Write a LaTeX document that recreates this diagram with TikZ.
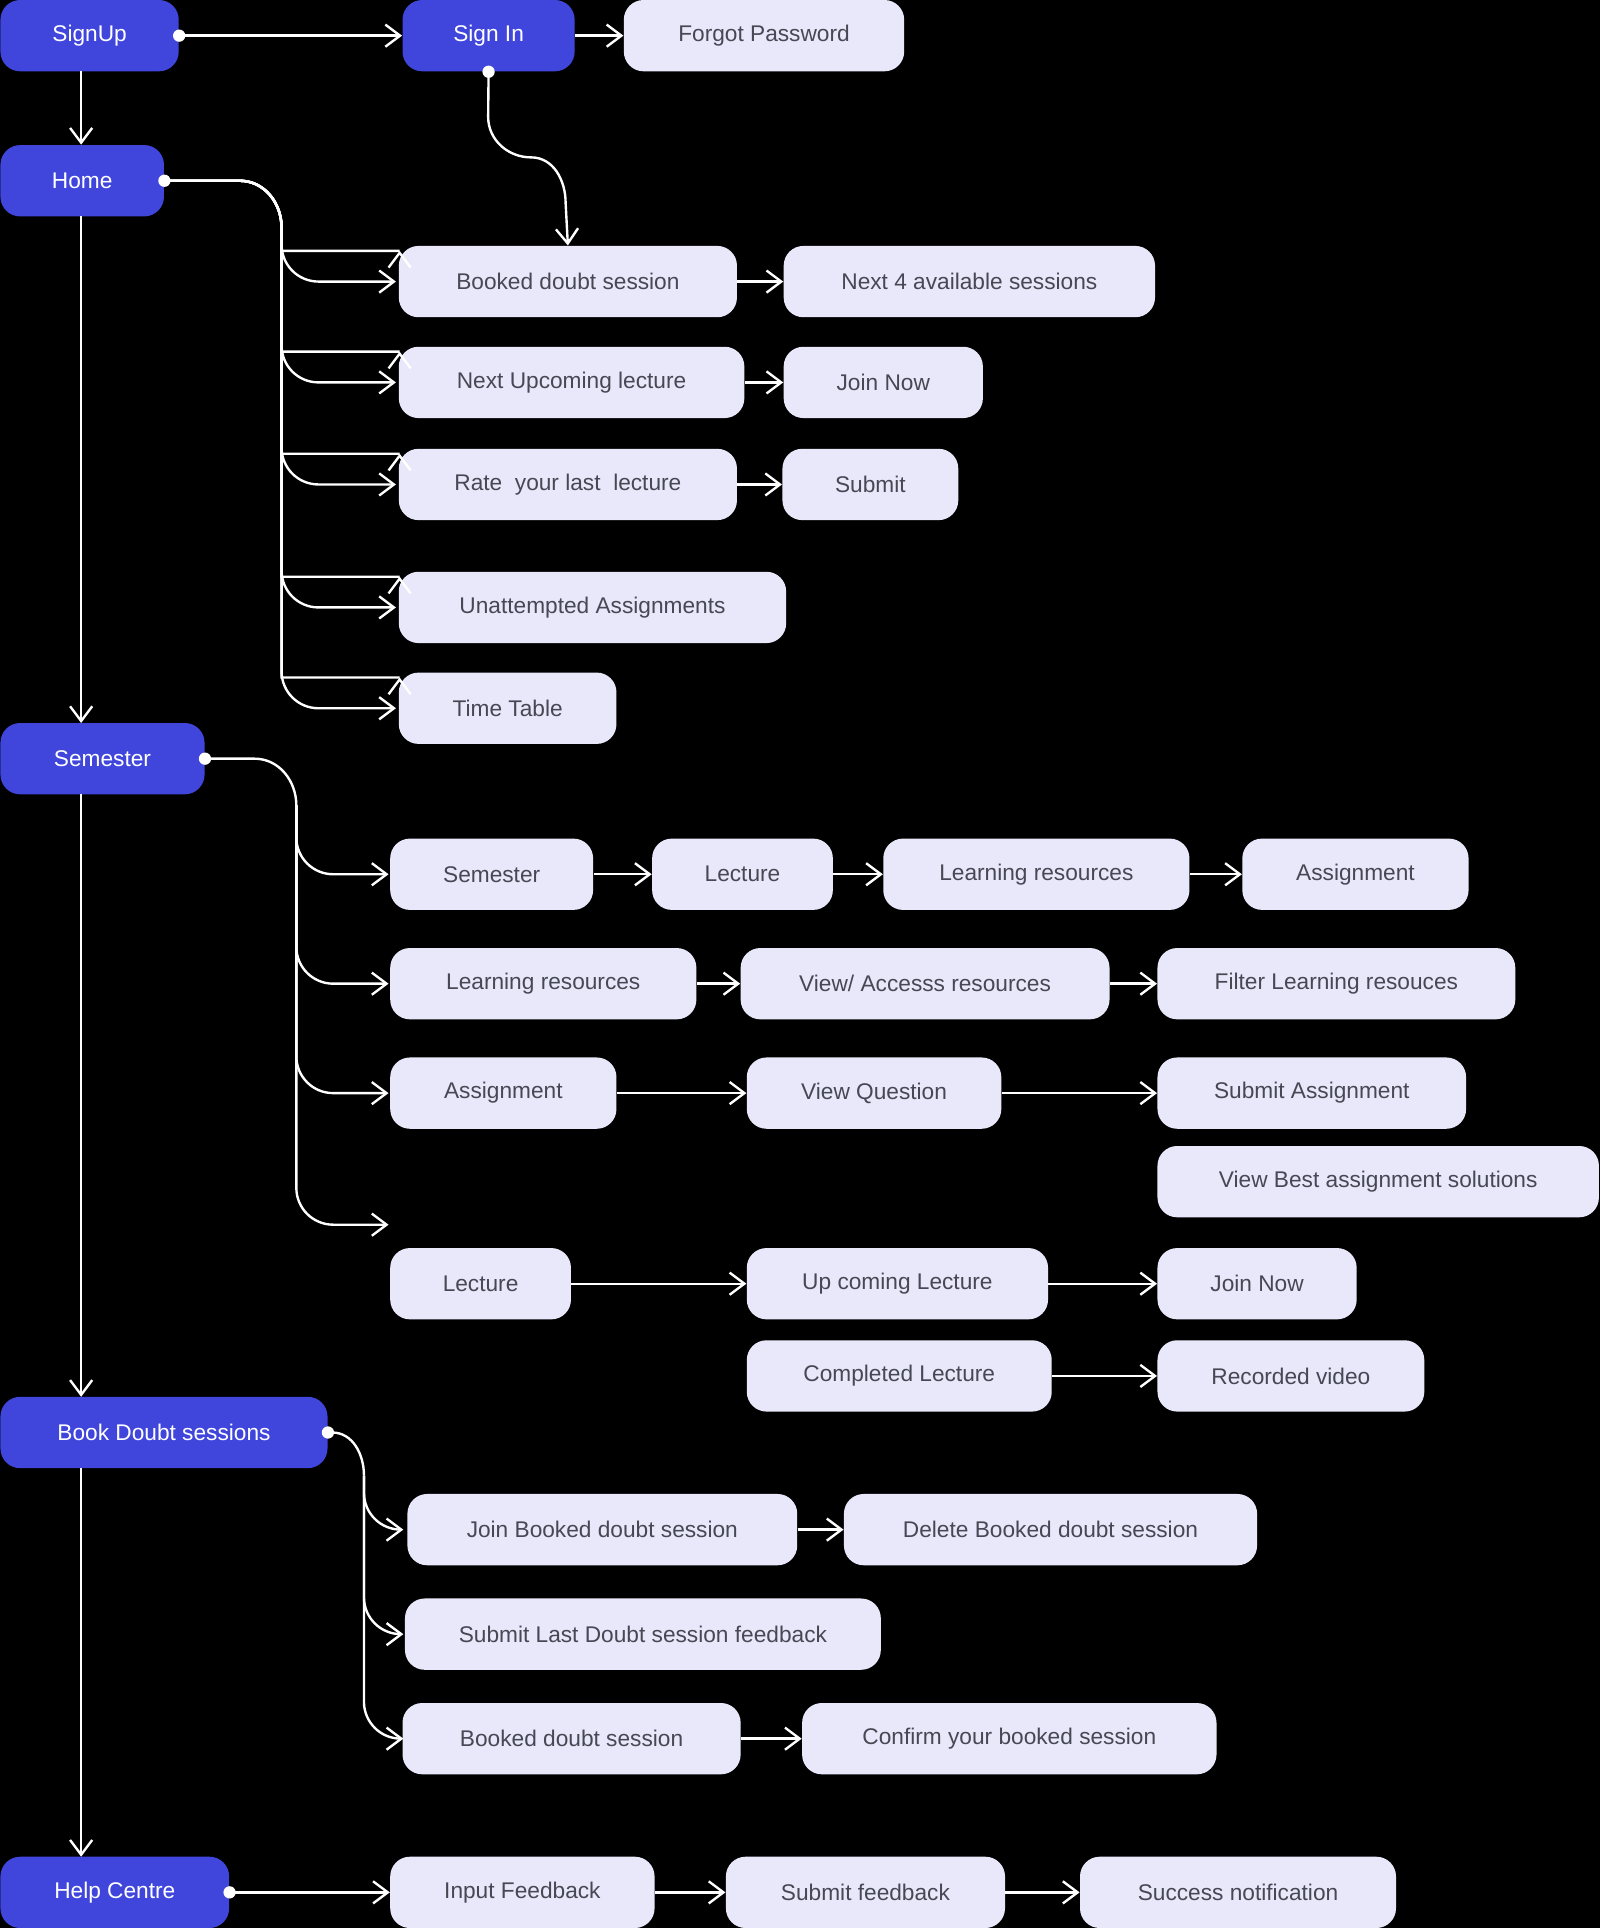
\documentclass[tikz,border=0pt]{standalone}
\usepackage{fontspec}
\setmainfont{Liberation Sans}
\usetikzlibrary{arrows.meta,positioning}
\definecolor{mainblue}{RGB}{64,70,220}
\definecolor{lightbox}{RGB}{232,232,250}
\definecolor{boxtext}{RGB}{70,72,84}

\begin{document}
\begin{tikzpicture}[
    x=0.02cm, y=-0.02cm,
    w/.style={minimum width=#1*0.02cm},
    base/.style={rectangle, rounded corners=0.32cm, minimum height=1.16cm, anchor=west, font=\fontsize{10.5}{12}\selectfont},
    mainbox/.style={base, fill=mainblue, text=white},
    stepbox/.style={base, fill=lightbox, text=boxtext},
    arrow/.style={draw=white, line width=1.1pt, -{Straight Barb[length=0.24cm,width=0.36cm]}},
    dot/.style={circle, fill=white, inner sep=0pt, minimum size=0.2cm},
]
    \fill[black] (0,0) rectangle (1301,1568);
    \useasboundingbox (0,0) rectangle (1301,1568);

    % Main column
    \node[mainbox, w=145] (signup) at (0,29) {SignUp};
    \node[mainbox, w=140] (signin) at (327,29) {Sign In};
    \node[stepbox, w=228] (forgot) at (507,29) {Forgot Password};
    \node[mainbox, w=133] (home) at (0,147) {Home};
    \node[mainbox, w=166] (semester) at (0,617) {Semester};
    \node[mainbox, w=266] (bookdoubt) at (0,1165) {Book Doubt sessions};
    \node[mainbox, w=186] (help) at (0,1539) {Help Centre};

    % Home items
    \node[stepbox, w=275] (hbooked) at (324,229) {Booked doubt session};
    \node[stepbox, w=302] (hnext) at (637,229) {Next 4 available sessions};
    \node[stepbox, w=281] (hlecture) at (324,311) {Next Upcoming lecture};
    \node[stepbox, w=162] (hjoin) at (637,311) {Join Now};
    \node[stepbox, w=275] (hrate) at (324,394) {Rate\ \ your last\ \ lecture};
    \node[stepbox, w=143] (hsubmit) at (636,394) {Submit};
    \node[stepbox, w=315] (hunatt) at (324,494) {Unattempted Assignments};
    \node[stepbox, w=177] (htable) at (324,576) {Time Table};

    % Semester items
    \node[stepbox, w=165] (ssem) at (317,711) {Semester};
    \node[stepbox, w=147] (slec) at (530,711) {Lecture};
    \node[stepbox, w=249] (slearn) at (718,711) {Learning resources};
    \node[stepbox, w=184] (sassign) at (1010,711) {Assignment};
    \node[stepbox, w=249] (lres) at (317,800) {Learning resources};
    \node[stepbox, w=300] (lview) at (602,800) {View/ Accesss resources};
    \node[stepbox, w=291] (lfilter) at (941,800) {Filter Learning resouces};
    \node[stepbox, w=184] (aassign) at (317,889) {Assignment};
    \node[stepbox, w=207] (aview) at (607,889) {View Question};
    \node[stepbox, w=251] (asubmit) at (941,889) {Submit Assignment};
    \node[stepbox, w=359] (abest) at (941,961) {View Best assignment solutions};
    \coordinate (lecin) at (317,996);
    \node[stepbox, w=147] (llec) at (317,1044) {Lecture};
    \node[stepbox, w=245] (lup) at (607,1044) {Up coming Lecture};
    \node[stepbox, w=162] (ljoin) at (941,1044) {Join Now};
    \node[stepbox, w=248] (lcomp) at (607,1119) {Completed Lecture};
    \node[stepbox, w=217] (lrec) at (941,1119) {Recorded video};

    % Book doubt items
    \node[stepbox, w=317] (bjoin) at (331,1244) {Join Booked doubt session};
    \node[stepbox, w=336] (bdelete) at (686,1244) {Delete Booked doubt session};
    \node[stepbox, w=387] (bfeed) at (329,1329) {Submit Last Doubt session feedback};
    \node[stepbox, w=275] (bbooked) at (327,1414) {Booked doubt session};
    \node[stepbox, w=337] (bconfirm) at (652,1414) {Confirm your booked session};

    % Help items
    \node[stepbox, w=215] (hinput) at (317,1539) {Input Feedback};
    \node[stepbox, w=227] (hsubfb) at (590,1539) {Submit feedback};
    \node[stepbox, w=257] (hsuccess) at (878,1539) {Success notification};

    % Main column arrows
    \draw[arrow] (66,58) -- (home.north -| 66,0);
    \draw[arrow] (66,176) -- (66,588);
    \draw[arrow] (66,646) -- (66,1136);
    \draw[arrow] (66,1194) -- (66,1510);
    \draw[arrow] (signup.east) -- (signin.west);
    \draw[arrow] (signin.east) -- (forgot.west);
    \draw[arrow] (signin.south) -- (397,95) to[out=-90,in=180] (432,128)
        to[out=0,in=90] (460,165) -- (hbooked.north);

    % Home branches
    \foreach \t in {hbooked,hlecture,hrate,hunatt,htable}
        \draw[arrow] (home.east) -- (195,147) to[out=0,in=90] (229,185)
            |- ([yshift=0.5cm]\t.west) to[out=-90,in=180] ++(1,0) ++(0,0)
            ;
    \foreach \y in {229,311,394,494,576}
        \draw[arrow] (229,185) -- (229,\y-30) to[out=-90,in=180] (259,\y) -- (322,\y);
    \draw[white, line width=1.1pt] (home.east) -- (195,147) to[out=0,in=90] (229,185);
    \draw[arrow] (hbooked) -- (hnext);
    \draw[arrow] (hlecture) -- (hjoin);
    \draw[arrow] (hrate) -- (hsubmit);

    % Semester branches
    \draw[white, line width=1.1pt] (semester.east) -- (207,617) to[out=0,in=90] (241,655);
    \foreach \y in {711,800,889,996}
        \draw[arrow] (241,655) -- (241,\y-30) to[out=-90,in=180] (271,\y) -- (316,\y);
    \draw[arrow] (ssem) -- (slec);
    \draw[arrow] (slec) -- (slearn);
    \draw[arrow] (slearn) -- (sassign);
    \draw[arrow] (lres) -- (lview);
    \draw[arrow] (lview) -- (lfilter);
    \draw[arrow] (aassign) -- (aview);
    \draw[arrow] (aview) -- (asubmit);
    \draw[arrow] (llec) -- (lup);
    \draw[arrow] (lup) -- (ljoin);
    \draw[arrow] (lcomp) -- (lrec);

    % Book doubt branches
    \draw[white, line width=1.1pt] (bookdoubt.east) -- (270,1165) to[out=0,in=90] (296,1200);
    \foreach \y in {1244,1329,1414}
        \draw[arrow] (296,1200) -- (296,\y-30) to[out=-90,in=180] (326,\y) -- (328,\y);
    \draw[arrow] (bjoin) -- (bdelete);
    \draw[arrow] (bbooked) -- (bconfirm);

    % Help branch
    \draw[arrow] (help.east) -- (hinput.west);
    \draw[arrow] (hinput) -- (hsubfb);
    \draw[arrow] (hsubfb) -- (hsuccess);

    % Start dots
    \node[dot] at (signup.east) {};
    \node[dot] at (signin.south) {};
    \node[dot] at (home.east) {};
    \node[dot] at (semester.east) {};
    \node[dot] at (bookdoubt.east) {};
    \node[dot] at (help.east) {};
\end{tikzpicture}
\end{document}
